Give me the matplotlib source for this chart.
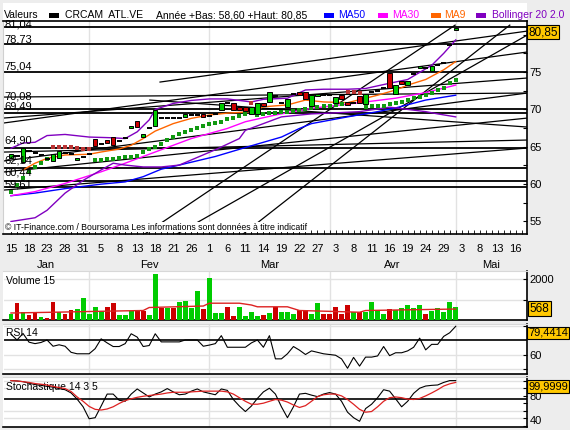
import numpy as np
import pandas as pd
import matplotlib
matplotlib.use("Agg")
import matplotlib.pyplot as plt
from matplotlib.patches import Rectangle
import matplotlib.transforms as mtrans

plt.rcParams['font.family'] = ['Liberation Sans', 'DejaVu Sans']

# ---------------- data ----------------
holidays = ['2013-03-29', '2013-04-01', '2013-05-01']
days = pd.bdate_range('2013-01-15', '2013-05-20')
days = days[~days.isin(pd.to_datetime(holidays))]

opens = [63.45, 63.8, 62.99, 64.4, 64.2, 63.9, 63.3, 63.09, 63.45, 64.2,
         64.0, 63.2, 63.6, 64.0, 66.03, 65.4, 65.86, 66.3, 65.8, 66.2,
         67.46, 68.44, 66.34, 67.5, 67.81, 68.9, 68.9, 68.9, 68.9, 68.94,
         69.2, 69.3, 69.34, 69.1, 69.4, 69.91, 70.8, 70.81, 70.36, 70.27,
         69.38, 69.38, 70.9, 71.02, 71.8, 70.8, 70.36, 72.0, 72.28, 72.28,
         70.45, 71.8, 71.92, 71.92, 70.8, 71.92, 71.02, 70.9, 71.78, 70.72,
         72.3, 72.5, 72.9, 74.82, 72.05, 73.8, 73.26, 74.8, 75.5, 75.6,
         75.17, 75.9, 76.2, 78.6, 80.6]
closes = [63.98, 63.8, 64.87, 64.4, 64.2, 63.9, 63.3, 63.98, 64.42, 64.2,
          64.0, 63.45, 63.6, 64.0, 65.13, 65.4, 65.45, 65.23, 65.8, 66.2,
          67.8, 67.6, 66.66, 67.5, 69.91, 68.9, 68.9, 68.9, 68.9, 69.34,
          69.2, 69.3, 68.94, 69.1, 69.4, 70.81, 70.8, 69.91, 69.91, 69.82,
          70.36, 70.8, 70.45, 72.28, 71.8, 70.8, 71.35, 72.0, 71.92, 71.35,
          71.92, 72.0, 71.92, 71.92, 71.7, 71.38, 70.58, 70.9, 70.89, 72.05,
          72.3, 72.5, 72.9, 72.82, 73.26, 73.4, 73.8, 74.8, 75.8, 75.6,
          75.8, 75.9, 76.2, 78.6, 80.85]

sar = [58.98, 59.87, 60.77, 61.57, 62.32, 62.78, 63.35, 64.92, 64.92, 64.92,
       64.92, 64.79, 64.69, 64.69, 63.18, 63.26, 63.31, 63.31, 63.45, 63.62,
       63.6, 63.8, 64.25, 64.69, 65.0, 65.32, 65.86, 66.26, 66.66, 66.93,
       67.24, 67.46, 67.77, 68.0, 68.13, 68.27, 68.67, 68.88, 69.15, 69.34,
       70.89, 69.31, 69.38, 69.47, 69.55, 69.61, 69.69, 69.82, 69.91, 70.01,
       70.22, 70.27, 70.45, 70.52, 70.62, 70.68, 72.28, 72.28, 72.15, 70.38,
       70.41, 70.45, 70.45, 70.68, 70.81, 71.02, 71.21, 71.48, 71.69, 71.96,
       72.23, 72.59, 72.82, 73.49, 73.93]
sar_below = [1, 1, 1, 1, 1, 1, 1, 0, 0, 0, 0, 0, 0, 0, 1, 1, 1, 1, 1, 1,
             1, 1, 1, 1, 1, 1, 1, 1, 1, 1, 1, 1, 1, 1, 1, 1, 1, 1, 1, 1,
             0, 1, 1, 1, 1, 1, 1, 1, 1, 1, 1, 1, 1, 1, 1, 1, 0, 0, 0, 1,
             1, 1, 1, 1, 1, 1, 1, 1, 1, 1, 1, 1, 1, 1, 1]

ma50_idx = [0, 4, 9, 15, 19, 22, 25, 28, 34, 39, 45, 48, 50, 56, 61, 64, 69, 74]
ma50 = [58.45, 58.8, 59.4, 60.0, 60.3, 61.0, 62.0, 62.55, 63.7, 64.9, 66.3,
        67.45, 68.1, 69.0, 69.7, 70.2, 71.25, 71.9]
ma30_idx = [0, 4, 9, 15, 19, 24, 30, 36, 39, 44, 50, 56, 59, 64, 69, 74]
ma30 = [58.45, 59.0, 60.1, 61.65, 62.8, 64.3, 66.1, 67.45, 68.35, 69.25,
        70.15, 70.7, 71.0, 71.5, 72.25, 73.25]
ma9_idx = [2, 4, 6, 9, 13, 15, 18, 20, 22, 24, 27, 30, 33, 36, 40, 42, 46, 49,
           52, 56, 59, 61, 64, 66, 69, 72, 74]
ma9 = [61.9, 62.8, 63.45, 63.9, 64.0, 64.3, 64.7, 65.2, 66.1, 67.1, 68.1, 68.8,
       69.25, 69.5, 69.7, 70.35, 70.6, 71.25, 71.0, 70.9, 71.5, 71.9, 72.6,
       73.25, 74.0, 75.3, 76.4]
bb_up_idx = [0, 2, 4, 6, 9, 13, 17, 19, 21, 23, 24, 27, 30, 33, 36, 40, 42, 46,
             49, 52, 56, 59, 63, 66, 70, 72, 73, 74]
bb_up = [64.8, 65.5, 65.6, 66.5, 66.65, 66.3, 66.2, 66.1, 67.0, 68.6, 70.0,
         70.8, 71.2, 71.4, 71.4, 71.0, 71.35, 71.5, 72.6, 72.7, 72.7, 72.8,
         73.5, 74.0, 75.9, 77.5, 78.4, 79.3]
bb_lo_idx = [0, 4, 6, 9, 12, 15, 17, 19, 22, 25, 28, 34, 38, 39, 45, 50, 53, 58,
             63, 66, 69, 71, 74]
bb_lo = [55.0, 55.5, 56.5, 58.8, 60.5, 61.9, 62.8, 62.55, 62.3, 62.3, 62.55,
         64.6, 66.1, 67.2, 69.0, 69.4, 69.5, 69.7, 70.3, 70.0, 69.7, 69.4, 69.0]

levels = [81.04, 78.73, 75.04, 70.08, 69.49, 64.90, 62.14, 60.44, 59.61]
level_labels = ['81,04', '78,73', '75,04', '70,08', '69,49', '64,90', '62,14',
                '60,44', '59,61']
# trend lines: (start day, start price, end day, end price)
trend_lines = [(-1.3, 68.17, 85.9, 77.68), (24.8, 73.66, 85.9, 80.48),
               (-1.3, 68.84, 85.9, 74.2), (-1.3, 63.09, 85.9, 72.19),
               (-1.3, 61.62, 85.9, 68.84), (-1.3, 71.65, 85.9, 72.19),
               (23.1, 71.25, 85.9, 67.64), (22.0, 53.18, 73.9, 81.28),
               (27.3, 53.18, 85.9, 79.95), (38.4, 53.18, 83.0, 81.28),
               (-1.3, 64.29, 85.9, 65.9), (-1.3, 59.2, 85.9, 64.83)]

volume = [304, 838, 392, 250, 431, 181, 127, 892, 392, 304,
          515, 534, 1108, 304, 662, 480, 662, 838, 250, 250,
          480, 480, 480, 250, 2284, 608, 608, 608, 892, 946,
          608, 1426, 552, 2069, 358, 358, 676, 216, 676, 216,
          431, 216, 250, 358, 676, 431, 431, 321, 520, 520,
          321, 838, 321, 321, 676, 321, 750, 431, 431, 431,
          892, 498, 321, 552, 498, 627, 733, 627, 733, 321,
          480, 627, 431, 892, 676]
vol_up = [1, 0, 1, 0, 0, 1, 0, 0, 1, 0, 0, 1, 1, 1, 1, 1, 0, 0, 1, 1,
          1, 0, 0, 1, 1, 0, 1, 0, 1, 1, 1, 1, 0, 1, 1, 1, 0, 0, 1, 1,
          1, 1, 0, 1, 0, 1, 1, 1, 0, 0, 1, 1, 0, 0, 0, 0, 0, 1, 0, 1,
          1, 1, 1, 0, 1, 1, 1, 1, 1, 0, 1, 1, 1, 1, 1]
vol_ma_idx = [0, 7, 13, 22, 23, 32, 33, 38, 40, 41, 46, 48, 54, 58, 59, 74]
vol_ma = [358, 395, 431, 480, 627, 700, 838, 838, 750, 662, 662, 480, 431,
          395, 480, 552]
last_volume = 568

rsi = [74.0, 70.0, 74.5, 68.5, 67.5, 68.3, 70.0, 65.7, 66.7, 65.7,
       61.5, 60.5, 60.5, 60.5, 64.0, 70.8, 68.0, 65.5, 65.5, 67.5,
       74.3, 72.0, 65.5, 66.2, 74.3, 68.7, 68.7, 68.7, 68.7, 70.0,
       70.0, 70.0, 65.7, 66.5, 67.5, 73.0, 65.0, 65.0, 65.0, 65.0,
       68.0, 70.0, 65.0, 73.0, 57.0, 57.0, 60.5, 65.5, 63.0, 60.0,
       62.5, 61.5, 60.5, 60.0, 59.5, 57.0, 50.5, 58.0, 52.0, 58.2,
       58.2, 59.0, 65.5, 59.2, 61.2, 61.2, 62.5, 65.0, 71.3, 63.2,
       67.0, 67.0, 72.5, 75.0, 79.4414]
stoch_k = [100, 99.5, 98.6, 96.6, 94.7, 93.7, 92.3, 91.3, 89.4, 87.9,
           83.6, 75.4, 65.2, 49.3, 50.7, 66.2, 82.1, 82.1, 73.9, 72.5,
           82.1, 88.9, 83.6, 78.3, 82.1, 85, 89.4, 85, 81.2, 82.1,
           86, 88.9, 85, 83.1, 81.2, 88.9, 87, 74.9, 66.2, 58.9,
           66.2, 76.3, 85, 89.9, 82.1, 65.2, 50.7, 65.2, 82.1, 83.1,
           80.7, 78.7, 82.1, 84.1, 82.1, 72.5, 58, 50.7, 45.9, 62.8,
           68.6, 77.3, 87.9, 86, 75.8, 65.2, 72.5, 83.1, 89.9, 92.8,
           93.7, 94.2, 97.6, 100, 99.9999]
stoch_d = [100, 99.5, 98.6, 97.6, 96.1, 95.2, 94.2, 92.3, 90.8, 89.4,
           85.5, 78.3, 72.5, 65.7, 61.8, 60.9, 62.3, 65.2, 69.6, 73.4,
           75.8, 77.8, 79.2, 80.2, 81.2, 82.1, 83.6, 84.5, 84.5, 84.5,
           85, 85.5, 86, 86, 86, 86, 85, 82.1, 77.3, 72.5,
           68.6, 68.6, 70, 72.5, 74.9, 74, 71.5, 67.6, 64.3, 66.7,
           72.5, 78.7, 81.2, 82.1, 82.1, 79.7, 74.9, 68.6, 61.8, 58,
           58.9, 65.2, 72.5, 77.3, 78.3, 77.3, 75.4, 74.9, 76.3, 79.7,
           83.6, 87.9, 92.8, 95.7, 97.6]

# ---------------- layout helpers ----------------
W, H = 570, 430
fig = plt.figure(figsize=(W / 100, H / 100), dpi=100)
fig.patch.set_facecolor('#EDEDED')

def rect(top, bot, left=3, right=527):
    return [left / W, 1 - bot / H, (right - left) / W, (bot - top) / H]

GREEN = '#00CC00'
RED = '#CC0000'
GRID = '#E2E2E2'
FS = 7.5
n = len(closes)
x = np.arange(n)
xmin, xmax = -1.33, 85.86
month_starts = [i for i in range(1, len(days)) if days[i].month != days[i - 1].month]
month_starts = [i for i in month_starts if i <= 80]

# header background
fig.add_artist(Rectangle((3 / W, 1 - 20.7 / H), 524 / W, 17.5 / H,
                         transform=fig.transFigure, facecolor='white',
                         edgecolor='none', zorder=0))

def style(ax, left_spine='#D0D0D0'):
    ax.set_facecolor('white')
    ax.set_xlim(xmin, xmax)
    for s in ['bottom', 'right']:
        ax.spines[s].set_color('black')
        ax.spines[s].set_linewidth(1.2)
    ax.spines['left'].set_color(left_spine)
    ax.spines['left'].set_linewidth(0.8)
    ax.spines['top'].set_color('#D8D8D8')
    ax.spines['top'].set_linewidth(0.8)
    ax.yaxis.tick_right()
    ax.tick_params(axis='y', direction='in', length=3, width=0.8, pad=2,
                   labelsize=8, right=True, left=False)
    for ms in month_starts:
        ax.axvline(ms, color=GRID, lw=1.0, zorder=0)

# ---------------- main price panel ----------------
ax = fig.add_axes(rect(20.7, 234.5))
style(ax)
ax.spines['top'].set_color('black')
ax.spines['top'].set_linewidth(1.2)
ax.set_ylim(53.26, 81.87)
ax.set_yticks([55, 60, 65, 70, 75, 80])
ax.set_yticks(np.arange(55, 81, 2.5), minor=True)
ax.tick_params(axis='y', which='minor', direction='in', length=3, width=0.8,
               right=True, left=False)
ax.set_yticklabels(['55', '60', '65', '70', '75', ''])  # 80 sits under the badge

# x ticks: every trading day, labels every 3rd
ax.set_xticks(np.arange(0, 86))
ax.tick_params(axis='x', direction='in', length=3, width=0.6, labelbottom=False)
btf = mtrans.blended_transform_factory(ax.transData, ax.transAxes)
for i in range(0, 85, 3):
    ax.text(i, -0.045, str(days[i].day), transform=btf,
            ha='center', va='top', fontsize=8)
months_fr = {1: 'Jan', 2: 'Fev', 3: 'Mar', 4: 'Avr', 5: 'Mai'}
bounds = [xmin] + month_starts + [xmax]
mons = [days[0].month] + [days[m].month for m in month_starts]
for k, mo in enumerate(mons):
    cpos = (bounds[k] + bounds[k + 1]) / 2
    ax.text(cpos, -0.12, months_fr[mo], transform=btf,
            ha='center', va='top', fontsize=8)

# horizontal levels + trend lines
for lv in levels:
    ax.axhline(lv, color='black', lw=1.3, zorder=2)
level_dy = [2.2, 4.6, 5.2, 12.7, 7.2, 7.4, 8.1, 8.8, 3.0]
for lv, lb, dy in zip(levels, level_labels, level_dy):
    ax.annotate(lb, xy=(xmin, lv), xytext=(1, dy * 0.72), textcoords='offset points',
                ha='left', va='center', fontsize=8, zorder=6)
for (a0, b0, a1, b1) in trend_lines:
    ax.plot([a0, a1], [b0, b1], color='black', lw=0.9, zorder=2)

# indicators
ax.plot(ma50_idx, ma50, color='#0000FF', lw=1.0, zorder=3)
ax.plot(ma30_idx, ma30, color='#FF00FF', lw=1.0, zorder=3)
ax.plot(ma9_idx, ma9, color='#FF6600', lw=1.0, zorder=3)
ax.plot(bb_up_idx, bb_up, color='#8000C0', lw=1.0, zorder=3)
ax.plot(bb_lo_idx, bb_lo, color='#8000C0', lw=1.0, zorder=3)

# SAR dots
sar_arr = np.array(sar)
sb = np.array(sar_below, dtype=bool)
ax.plot(x[sb], sar_arr[sb], 's', color='#119911', ms=2.8, mew=0, zorder=4)
ax.plot(x[~sb], sar_arr[~sb], 's', color='#BB3333', ms=2.8, mew=0, zorder=4)

# candles
o = np.array(opens); c = np.array(closes)
body = np.abs(c - o)
doji = body < 0.05
up = (c > o) & ~doji
dn = (c < o) & ~doji
ax.bar(x[up], body[up], bottom=o[up], width=0.72, color=GREEN,
       edgecolor='black', linewidth=0.7, zorder=5)
ax.bar(x[dn], body[dn], bottom=c[dn], width=0.72, color=RED,
       edgecolor='black', linewidth=0.7, zorder=5)
ax.hlines(c[doji], x[doji] - 0.42, x[doji] + 0.42, color='black', lw=1.4, zorder=5)

ax.text(0.004, 0.035, '© IT-Finance.com / Boursorama Les informations sont données à titre indicatif',
        transform=ax.transAxes, fontsize=6.3, ha='left', va='center', zorder=7,
        bbox=dict(facecolor='white', edgecolor='none', pad=0.5))

BADGE = dict(boxstyle='square,pad=0.12', facecolor='#FFC800', edgecolor='black', lw=0.8)
ax.text(1.002, 0.947, '80,85', transform=ax.transAxes, fontsize=8.5, ha='left',
        va='center', bbox=BADGE, zorder=10, clip_on=False)

# ---------------- volume panel ----------------
av = fig.add_axes(rect(270.5, 320.3))
style(av, left_spine='white')
av.set_ylim(0, 2441)
vcol = [GREEN if u else RED for u in vol_up]
av.bar(x, volume, width=0.8, color=vcol, zorder=3)
av.plot(vol_ma_idx, vol_ma, color='#DD2222', lw=1.0, zorder=4)
av.set_yticks([1000, 2000])
av.set_yticklabels(['', '2000'])
av.set_xticks([])
for v in [1000, 2000]:
    av.axhline(v, color=GRID, lw=1.0, zorder=0)
av.text(0.006, 0.79, 'Volume 15', transform=av.transAxes, fontsize=FS, va='center')
av.annotate(str(last_volume), xy=(1.0, last_volume), xycoords=('axes fraction', 'data'),
            xytext=(2, 0), textcoords='offset points', fontsize=8.5, ha='left',
            va='center', bbox=BADGE, zorder=10, annotation_clip=False)

# ---------------- RSI panel ----------------
ar = fig.add_axes(rect(324.4, 373.5))
style(ar, left_spine='white')
ar.set_ylim(46.9, 80.76)
ar.plot(x, rsi, color='black', lw=0.8, zorder=3)
ar.axhline(70, color='black', lw=1.2, zorder=2)
for v in [80, 60, 50]:
    ar.axhline(v, color=GRID, lw=1.0, zorder=0)
ar.set_yticks([50, 60, 80])
ar.set_yticklabels(['', '60', ''])
ar.set_xticks([])
ar.text(0.006, 0.82, 'RSI 14', transform=ar.transAxes, fontsize=FS, va='center', zorder=1)
ar.text(1.002, 0.825, '79,4414', transform=ar.transAxes, fontsize=8, ha='left',
        va='center', bbox=BADGE, zorder=10, clip_on=False)

# ---------------- Stochastic panel ----------------
ast = fig.add_axes(rect(377, 426.8))
style(ast, left_spine='white')
ast.set_ylim(38.6, 104.8)
ast.plot(x, stoch_k, color='black', lw=0.8, zorder=3)
ast.plot(x, stoch_d, color='#DD2222', lw=0.9, zorder=3)
ast.axhline(76, color='black', lw=1.2, zorder=2)
for v in [100, 90, 60, 50]:
    ast.axhline(v, color=GRID, lw=1.0, zorder=0)
ast.set_yticks([40, 50, 60, 70, 80, 90, 100])
ast.set_yticklabels(['40', '', '', '', '80', '', ''])
ast.get_yticklabels()[0].set_va('bottom')
ast.set_xticks([])
ast.text(0.006, 0.80, 'Stochastique 14 3 5', transform=ast.transAxes, fontsize=FS,
         va='center', zorder=1)
ast.text(1.002, 0.803, '99,9999', transform=ast.transAxes, fontsize=8, ha='left',
         va='center', bbox=BADGE, zorder=10, clip_on=False)

# ---------------- header legend ----------------
ty = 1 - 15.3 / H
def sq(xp, col):
    fig.add_artist(Rectangle((xp / W, 1 - 17.5 / H), 10 / W, 4.5 / H,
                             transform=fig.transFigure, facecolor=col,
                             edgecolor='none', zorder=5))
fig.text(3.6 / W, ty, 'Valeurs', fontsize=FS, va='center')
sq(49, 'black')
fig.text(65 / W, ty, 'CRCAM  ATL.VE', fontsize=FS, va='center')
fig.text(156 / W, ty, 'Année +Bas: 58,60 +Haut: 80,85', fontsize=FS, va='center')
sq(324, '#0000FF')
fig.text(338 / W, ty, 'MA50', fontsize=FS, va='center', color='#0000FF')
sq(378, '#FF00FF')
fig.text(392 / W, ty, 'MA30', fontsize=FS, va='center', color='#FF00FF')
sq(431, '#FF6600')
fig.text(444 / W, ty, 'MA9', fontsize=FS, va='center', color='#FF6600')
sq(476, '#8000C0')
fig.text(492 / W, ty, 'Bollinger 20 2.0', fontsize=FS, va='center', color='#8000C0')

fig.savefig('out.png', dpi=100, facecolor=fig.get_facecolor())
